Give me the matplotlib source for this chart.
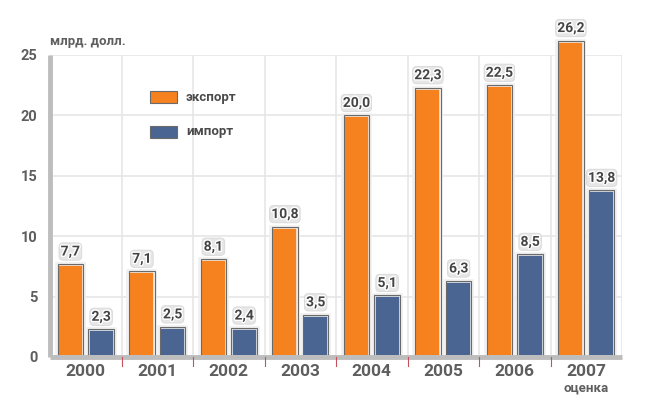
import matplotlib
matplotlib.use("Agg")
import matplotlib.pyplot as plt
from matplotlib.patches import Rectangle
import matplotlib.patheffects as pe
import numpy as np

years = ["2000", "2001", "2002", "2003", "2004", "2005", "2006", "2007"]
export_vals = [7.7, 7.1, 8.1, 10.8, 20.0, 22.3, 22.5, 26.2]
import_vals = [2.3, 2.5, 2.4, 3.5, 5.1, 6.3, 8.5, 13.8]
yticks = [0, 5, 10, 15, 20, 25]

plt.rcParams['font.family'] = ['Roboto', 'DejaVu Sans']

W, H = 656, 400
fig = plt.figure(figsize=(W / 100, H / 100), dpi=100)
left, right, bottom, top = 50, 622, 357, 55
ax = fig.add_axes([left / W, 1 - bottom / H, (right - left) / W, (bottom - top) / H])

orange = '#F5821F'
blue = '#4A6592'
grey_txt = '#5E5E5E'

x = np.arange(len(years))
w = 0.38
off = 0.215
ax.set_xlim(-0.5, len(years) - 0.5)
ax.set_ylim(0, 25)

# grid
for yv in yticks[1:]:
    ax.axhline(yv, color='#E6E6E6', lw=1.2, zorder=0)
for i in range(1, len(years) + 1):
    ax.axvline(i - 0.5, color='#E6E6E6', lw=1.2, zorder=0)

def bars(xs, vals, color):
    b = ax.bar(xs, vals, width=w, color=color, edgecolor='#F0F0F0', linewidth=2.6,
               zorder=3, clip_on=False)
    ax.bar(xs, vals, width=w - 0.02, color='none', edgecolor='#6A6A6A', linewidth=0.8,
           zorder=4, clip_on=False)
    return b

bars(x - off, export_vals, orange)
bars(x + off, import_vals, blue)

def lab(xs, vals):
    for xi, v in zip(xs, vals):
        t = ax.text(xi, v + 0.45, f"{v:.1f}".replace('.', ','), ha='center', va='bottom',
                    fontsize=10, fontweight='bold', color='#444444', zorder=6, clip_on=False,
                    bbox=dict(boxstyle='round,pad=0.12,rounding_size=0.3', fc='#E6E6E6',
                              ec='#D8D8D8', lw=0.6))
        t.set_path_effects([pe.withStroke(linewidth=2, foreground='white')])

lab(x - off, export_vals)
lab(x + off, import_vals)

# spines
for s in ax.spines.values():
    s.set_visible(False)
ax.plot([-0.5, -0.5], [0, 25], color='#BDBDBD', lw=3.5, zorder=5, clip_on=False, solid_capstyle='butt')
ax.plot([-0.5, len(years) - 0.5], [0, 0], color='#BDBDBD', lw=3.5, zorder=5, clip_on=False,
        solid_capstyle='butt')

# red separators below axis
for i in range(1, len(years)):
    ax.plot([i - 0.5, i - 0.5], [0, -0.75], color='#C8505A', lw=0.8, clip_on=False, zorder=5)

ax.set_yticks(yticks)
ax.set_yticklabels([str(v) for v in yticks], fontsize=10.5, fontweight='bold', color=grey_txt)
ax.tick_params(axis='y', length=0, pad=9)
ax.set_xticks(x)
ax.set_xticklabels(years, fontsize=12.5, fontweight='bold', color=grey_txt)
ax.tick_params(axis='x', length=0, pad=5)

ax.text(-0.5, 25.6, "млрд. долл.", ha='left', va='bottom', fontsize=9.5, fontweight='bold',
        color=grey_txt, clip_on=False)
ax.text(len(years) - 1, -2.0, "оценка", ha='center', va='top', fontsize=9.5, fontweight='bold',
        color=grey_txt, clip_on=False)

# legend
fig.patches.append(Rectangle((150 / W, 1 - 103 / H), 27 / W, 12 / H, transform=fig.transFigure,
                             fc=orange, ec='#6A6A6A', lw=0.8))
fig.patches.append(Rectangle((150 / W, 1 - 138 / H), 27 / W, 12 / H, transform=fig.transFigure,
                             fc=blue, ec='#6A6A6A', lw=0.8))
fig.text(186 / W, 1 - 97 / H, "экспорт", ha='left', va='center', fontsize=9.5, fontweight='bold',
         color='#4A4A4A')
fig.text(186 / W, 1 - 132 / H, "импорт", ha='left', va='center', fontsize=9.5, fontweight='bold',
         color='#4A4A4A')

fig.savefig("out.png", dpi=100, facecolor='white')
